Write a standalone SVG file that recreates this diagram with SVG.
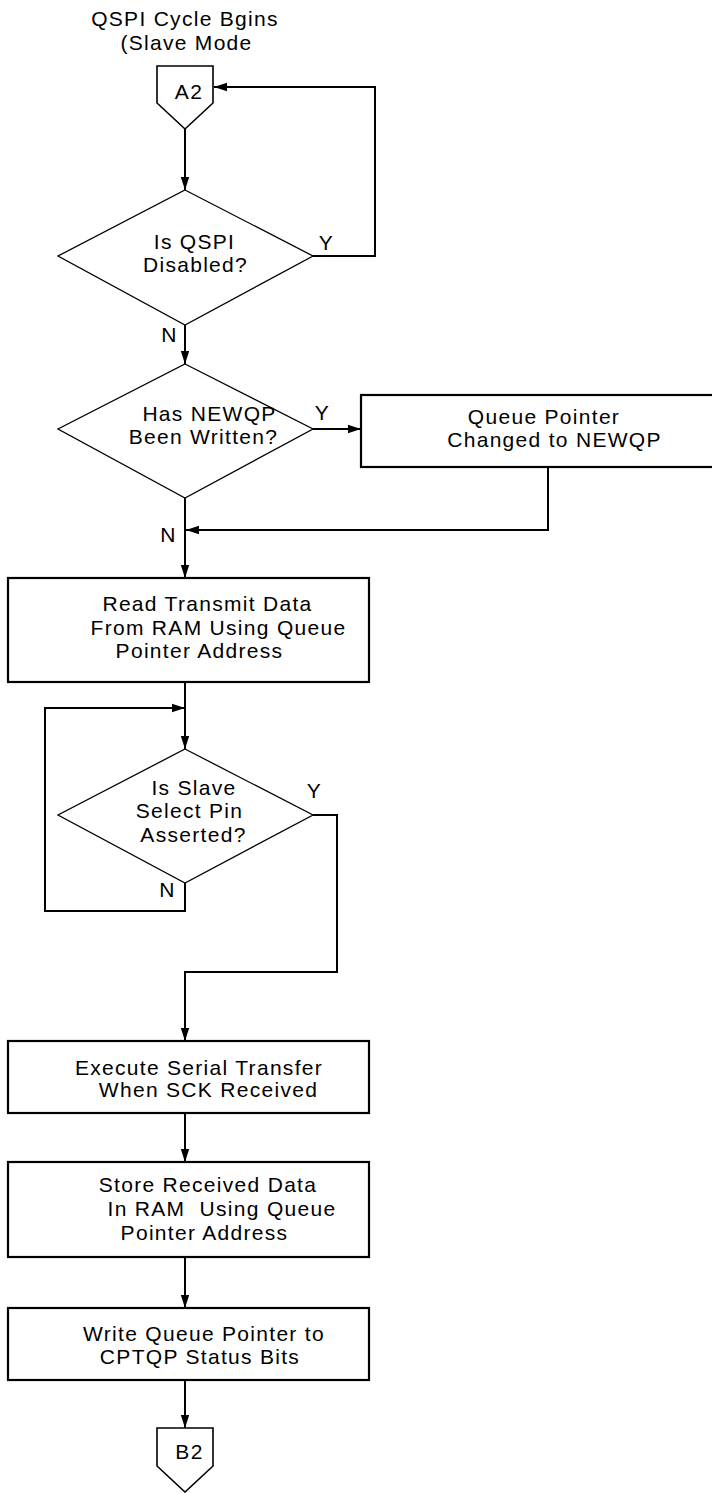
<svg xmlns="http://www.w3.org/2000/svg" width="712" height="1493" viewBox="0 0 712 1493">
<style>
text{font-family:"Liberation Sans",Arial,Helvetica,sans-serif;font-size:21px;letter-spacing:1.3px;fill:#000;text-anchor:middle}
.box{fill:#fff;stroke:#000;stroke-width:2.2}
.dia{fill:#fff;stroke:#000;stroke-width:1.3}
.off{fill:#fff;stroke:#000;stroke-width:1.6}
.con{fill:none;stroke:#000;stroke-width:2}
</style>
<defs>
<marker id="ah" markerUnits="userSpaceOnUse" markerWidth="14" markerHeight="10" refX="13" refY="5" orient="auto">
<path d="M0,0.8 L13,5 L0,9.2 Z" fill="#000"/>
</marker>
</defs>
<rect width="712" height="1493" fill="#fff"/>
<g id="title">
<text><tspan x="185" y="26">QSPI Cycle Bgins</tspan><tspan x="186.5" y="50">(Slave Mode</tspan></text>
</g>
<g id="connectors">
<path class="con" d="M313,256 H375 V87 H214" marker-end="url(#ah)"/>
<path class="con" d="M185,129 V190" marker-end="url(#ah)"/>
<path class="con" d="M185,325 V364" marker-end="url(#ah)"/>
<path class="con" d="M313,429 H361" marker-end="url(#ah)"/>
<path class="con" d="M548,467 V530 H186" marker-end="url(#ah)"/>
<path class="con" d="M185,498 V578" marker-end="url(#ah)"/>
<path class="con" d="M185,682 V749" marker-end="url(#ah)"/>
<path class="con" d="M185,883 V911 H45 V708 H185" marker-end="url(#ah)"/>
<path class="con" d="M313,815 H337 V972 H185 V1041" marker-end="url(#ah)"/>
<path class="con" d="M185,1113 V1162" marker-end="url(#ah)"/>
<path class="con" d="M185,1257 V1308" marker-end="url(#ah)"/>
<path class="con" d="M185,1380 V1428" marker-end="url(#ah)"/>
<text x="326.5" y="250">Y</text>
<text x="169.5" y="342">N</text>
<text x="322.5" y="420">Y</text>
<text x="168.5" y="542">N</text>
<text x="314.5" y="798">Y</text>
<text x="167.5" y="897">N</text>
</g>
<g id="A2">
<polygon class="off" points="157,66 213,66 213,103 185,129 157,103"/>
<text x="189" y="99">A2</text>
</g>
<g id="d_disabled">
<polygon class="dia" points="185,190 313,256 185,325 58,256"/>
<text><tspan x="194.5" y="249">Is QSPI</tspan><tspan x="195.5" y="272">Disabled?</tspan></text>
</g>
<g id="d_newqp">
<polygon class="dia" points="185,364 313,429 185,498 58,429"/>
<text><tspan x="209.5" y="421">Has NEWQP</tspan><tspan x="203.5" y="444">Been Written?</tspan></text>
</g>
<g id="b_queue">
<rect class="box" x="361" y="395" width="380" height="72"/>
<text><tspan x="544" y="424">Queue Pointer</tspan><tspan x="554.5" y="447">Changed to NEWQP</tspan></text>
</g>
<g id="b_read">
<rect class="box" x="8" y="578" width="361" height="104"/>
<text><tspan x="207.5" y="611">Read Transmit Data</tspan><tspan x="218.5" y="635">From RAM Using Queue</tspan><tspan x="199.5" y="658">Pointer Address</tspan></text>
</g>
<g id="d_slave">
<polygon class="dia" points="185,749 313,815 185,883 58,815"/>
<text><tspan x="194" y="795">Is Slave</tspan><tspan x="189.5" y="818">Select Pin</tspan><tspan x="193.5" y="842">Asserted?</tspan></text>
</g>
<g id="b_execute">
<rect class="box" x="8" y="1041" width="361" height="72"/>
<text><tspan x="199" y="1075">Execute Serial Transfer</tspan><tspan x="208.5" y="1097">When SCK Received</tspan></text>
</g>
<g id="b_store">
<rect class="box" x="8" y="1162" width="361" height="95"/>
<text style="white-space:pre"><tspan x="208" y="1192">Store Received Data</tspan><tspan x="222" y="1216">In RAM  Using Queue</tspan><tspan x="204.5" y="1240">Pointer Address</tspan></text>
</g>
<g id="b_write">
<rect class="box" x="8" y="1308" width="361" height="72"/>
<text><tspan x="204" y="1341">Write Queue Pointer to</tspan><tspan x="200" y="1364">CPTQP Status Bits</tspan></text>
</g>
<g id="B2">
<polygon class="off" points="157,1428 213,1428 213,1466 185,1492 157,1466"/>
<text x="189.5" y="1459">B2</text>
</g>
</svg>
